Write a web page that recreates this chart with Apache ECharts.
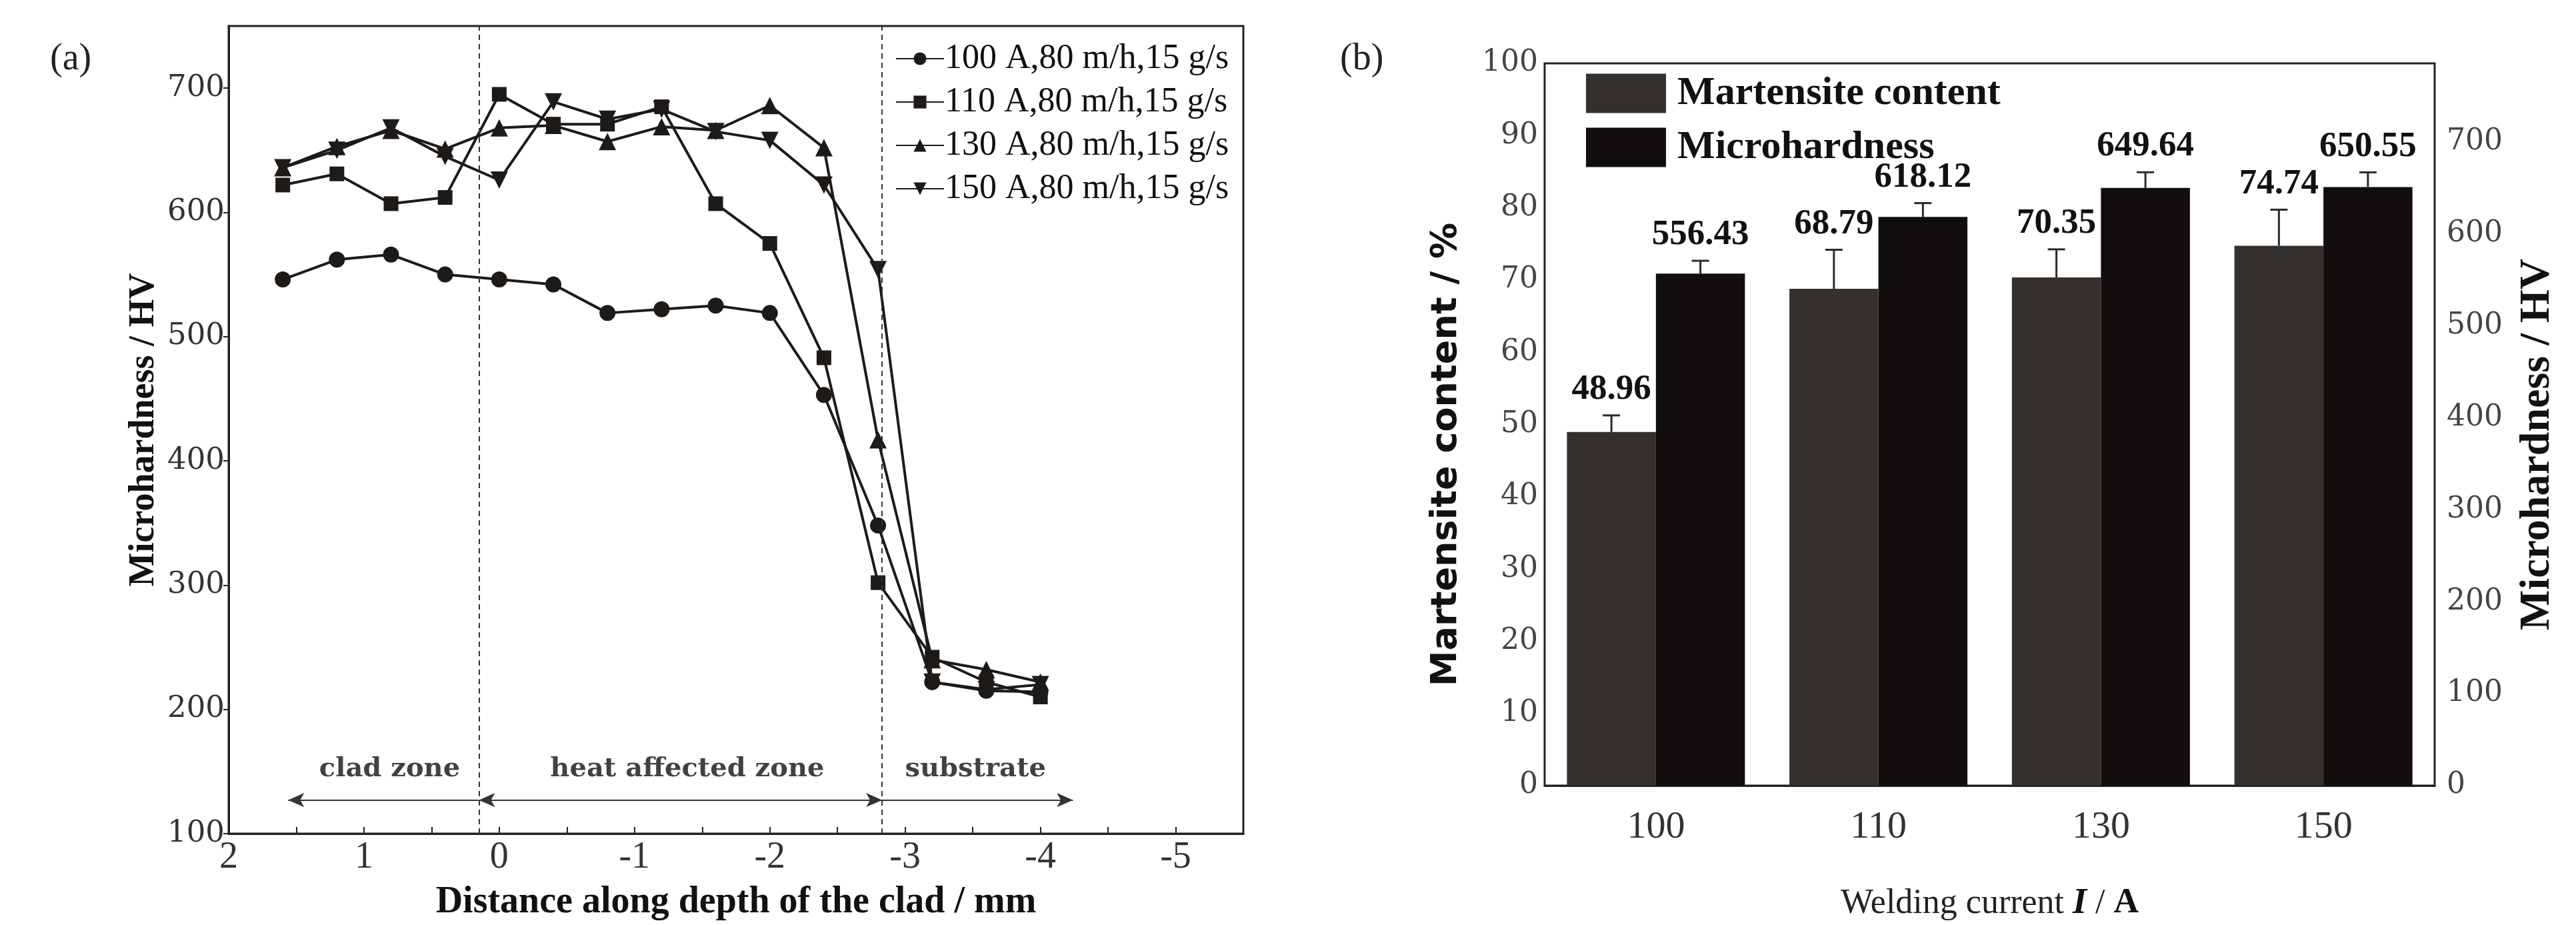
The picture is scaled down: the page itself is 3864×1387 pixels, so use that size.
<!DOCTYPE html>
<html>
<head>
<meta charset="utf-8">
<script src="https://cdn.jsdelivr.net/npm/echarts@6/dist/echarts.min.js"></script>
<style>html,body{margin:0;background:#fff}#main{width:3864px;height:1387px}</style>
</head>
<body>
<div id="main"></div>
<script>
// (a) microhardness along depth of the clad
const depth = [1.6, 1.2, 0.8, 0.4, 0, -0.4, -0.8, -1.2, -1.6, -2.0, -2.4, -2.8, -3.2, -3.6, -4.0];
const hv100 = [546, 562, 566, 550, 546, 542, 519, 522, 525, 519, 453, 348, 222, 215, 214];
const hv110 = [622, 631, 607, 612, 695, 671, 671, 685, 607, 575, 483, 302, 242, 222, 210];
const hv130 = [636, 653, 666, 651, 668, 670, 657, 669, 666, 686, 652, 417, 240, 232, 222];
const hv150 = [636, 650, 668, 645, 626, 689, 675, 683, 665, 658, 622, 554, 222, 216, 220];
const lineNames = ['100 A,80 m/h,15 g/s', '110 A,80 m/h,15 g/s', '130 A,80 m/h,15 g/s', '150 A,80 m/h,15 g/s'];
const zoneBounds = [0.15, -2.83];
const zoneNames = ['clad zone', 'heat affected zone', 'substrate'];
const zoneCentres = [0.81, -1.39, -3.52];
const arrowEnds = [1.56, -4.24];

// (b) martensite content and microhardness vs welding current
const currents = ['100', '110', '130', '150'];
const martensite = [48.96, 68.79, 70.35, 74.74];
const martensiteErr = [2.3, 5.4, 3.9, 5.0];
const hardness = [556.43, 618.12, 649.64, 650.55];
const hardnessErr = [14, 15, 17, 16];

const ink = '#1d1a18';
const serif = 'Liberation Serif';
const wide = 'DejaVu Serif';

function pairs(ys) {
    return depth.map((d, i) => [d, ys[i]]);
}

// error bar plus value label, side -1 = left bar of group, 1 = right bar
function errorBar(side) {
    return function (params, api) {
        const i = api.value(0);
        const v = api.value(1);
        const e = api.value(2);
        const base = api.coord([i, v]);
        const top = api.coord([i, v + e]);
        const bw = api.size([1, 0])[0] * 0.8 / 2;
        const x = base[0] + side * bw / 2;
        return {
            type: 'group',
            children: [
                {type: 'line', shape: {x1: x, y1: base[1], x2: x, y2: top[1]}, style: {stroke: '#2b2b2b', lineWidth: 3}},
                {type: 'line', shape: {x1: x - 13, y1: top[1], x2: x + 13, y2: top[1]}, style: {stroke: '#2b2b2b', lineWidth: 3}},
                {type: 'text', x: x, y: top[1] - 12, style: {
                    text: v.toFixed(2), fill: '#111', fontSize: 53, fontWeight: 'bold', fontFamily: serif,
                    align: 'center', verticalAlign: 'bottom'
                }}
            ]
        };
    };
}

const lineStyle = {color: ink, width: 4};

const option = {
    backgroundColor: '#ffffff',
    animation: false,
    title: [
        {text: '(a)', left: 70, top: 56, textStyle: {fontFamily: serif, fontWeight: 'normal', fontSize: 56, color: '#222'}},
        {text: '(b)', left: 2005, top: 56, textStyle: {fontFamily: serif, fontWeight: 'normal', fontSize: 56, color: '#222'}}
    ],
    legend: [
        {
            data: lineNames, orient: 'vertical', left: 1338, top: 57,
            itemWidth: 72, itemHeight: 24, itemGap: 13,
            textStyle: {fontFamily: serif, fontSize: 52, color: '#111', lineHeight: 52, padding: [0, 0, 0, -4]}
        },
        {
            data: ['Martensite content', 'Microhardness'], orient: 'vertical', left: 2374, top: 105,
            icon: 'rect', itemWidth: 120, itemHeight: 59, itemGap: 21,
            textStyle: {fontFamily: serif, fontWeight: 'bold', fontSize: 60, color: '#111', padding: [0, 0, 0, 12]}
        }
    ],
    grid: [
        {left: 343, top: 39, width: 1522, height: 1219, show: true, borderColor: '#222', borderWidth: 3},
        {left: 2317, top: 95, width: 1335, height: 1084, show: true, borderColor: '#222', borderWidth: 3}
    ],
    xAxis: [
        {
            gridIndex: 0, type: 'value', inverse: true, min: -5.5, max: 2, interval: 0.5,
            name: 'Distance along depth of the clad / mm', nameLocation: 'middle', nameGap: 76,
            nameTextStyle: {fontFamily: serif, fontWeight: 'bold', fontSize: 56, color: '#111'},
            axisLine: {onZero: false, lineStyle: {color: '#222', width: 3}},
            axisTick: {inside: true, length: 10, lineStyle: {color: '#222', width: 2}},
            axisLabel: {
                margin: 8, fontFamily: serif, fontSize: 56, color: '#333',
                formatter: v => Number.isInteger(v) ? String(v) : ''
            },
            splitLine: {show: false}
        },
        {
            gridIndex: 1, type: 'category', data: currents,
            name: '{a|Welding current }{b|I}{a| / }{c|A}', nameLocation: 'middle', nameGap: 150,
            nameTextStyle: {
                rich: {
                    a: {fontFamily: serif, fontSize: 52, color: '#222'},
                    b: {fontFamily: serif, fontSize: 54, fontWeight: 'bold', fontStyle: 'italic', color: '#111'},
                    c: {fontFamily: serif, fontSize: 52, fontWeight: 'bold', color: '#111'}
                }
            },
            axisLine: {lineStyle: {color: '#222', width: 3}},
            axisTick: {show: false},
            axisLabel: {margin: 34, fontFamily: serif, fontSize: 58, color: '#333'}
        }
    ],
    yAxis: [
        {
            gridIndex: 0, type: 'value', min: 100, max: 750, interval: 100,
            name: 'Microhardness / HV', nameLocation: 'middle', nameGap: 100,
            nameTextStyle: {fontFamily: serif, fontWeight: 'bold', fontSize: 54, color: '#111'},
            axisLine: {onZero: false, lineStyle: {color: '#222', width: 3}},
            axisTick: {length: 8, lineStyle: {color: '#222', width: 2}},
            axisLabel: {margin: 6, fontFamily: wide, fontSize: 45, color: '#333', showMaxLabel: false},
            splitLine: {show: false}
        },
        {
            gridIndex: 1, type: 'value', min: 0, max: 100, interval: 10,
            name: 'Martensite content / %', nameLocation: 'middle', nameGap: 120,
            nameTextStyle: {fontFamily: 'DejaVu Sans', fontWeight: 'bold', fontSize: 54, color: '#111', padding: [0, 90, 0, 0]},
            axisLine: {onZero: false, lineStyle: {color: '#222', width: 3}},
            axisTick: {length: 16, lineStyle: {color: '#222', width: 3}},
            axisLabel: {margin: 10, fontFamily: wide, fontSize: 44, color: '#444'},
            splitLine: {show: false}
        },
        {
            gridIndex: 1, type: 'value', position: 'right', min: 0, max: 785, interval: 100,
            name: 'Microhardness / HV', nameLocation: 'middle', nameGap: 122, nameRotate: 90,
            nameTextStyle: {fontFamily: serif, fontWeight: 'bold', fontSize: 64, color: '#111', padding: [0, 60, 0, 0]},
            axisLine: {onZero: false, lineStyle: {color: '#222', width: 3}},
            axisTick: {inside: true, length: 26, lineStyle: {color: '#222', width: 3}},
            axisLabel: {margin: 18, fontFamily: wide, fontSize: 44, color: '#444', showMaxLabel: false},
            splitLine: {show: false}
        }
    ],
    series: [
        {
            name: lineNames[0], type: 'line', xAxisIndex: 0, yAxisIndex: 0, data: pairs(hv100),
            symbol: 'circle', symbolSize: 24, lineStyle: lineStyle, itemStyle: {color: ink},
            markLine: {
                silent: true, symbol: 'none', label: {show: false},
                lineStyle: {color: '#333', width: 2, type: [8, 6]},
                data: zoneBounds.map(b => ({xAxis: b}))
            }
        },
        {
            name: lineNames[1], type: 'line', xAxisIndex: 0, yAxisIndex: 0, data: pairs(hv110),
            symbol: 'rect', symbolSize: 22, lineStyle: lineStyle, itemStyle: {color: ink},
            markLine: {
                silent: true, symbol: ['none', 'arrow'], symbolSize: [16, 24], label: {show: false},
                lineStyle: {color: '#333', width: 2, type: 'solid'},
                data: [
                    [{coord: [zoneBounds[0], 127]}, {coord: [arrowEnds[0], 127]}],
                    [{coord: [zoneBounds[1], 127]}, {coord: [arrowEnds[1], 127]}]
                ]
            }
        },
        {
            name: lineNames[2], type: 'line', xAxisIndex: 0, yAxisIndex: 0, data: pairs(hv130),
            symbol: 'triangle', symbolSize: 26, lineStyle: lineStyle, itemStyle: {color: ink},
            markLine: {
                silent: true, symbol: ['arrow', 'arrow'], symbolSize: [16, 24], label: {show: false},
                lineStyle: {color: '#333', width: 2, type: 'solid'},
                data: [[{coord: [zoneBounds[0], 127]}, {coord: [zoneBounds[1], 127]}]]
            }
        },
        {
            name: lineNames[3], type: 'line', xAxisIndex: 0, yAxisIndex: 0, data: pairs(hv150),
            symbol: 'triangle', symbolRotate: 180, symbolSize: 26, lineStyle: lineStyle, itemStyle: {color: ink}
        },
        {
            name: 'zones', type: 'scatter', xAxisIndex: 0, yAxisIndex: 0, symbolSize: 0, silent: true,
            data: zoneNames.map((n, i) => ({name: n, value: [zoneCentres[i], 152]})),
            label: {
                show: true, position: 'inside', formatter: p => p.name,
                fontFamily: wide, fontWeight: 'bold', fontSize: 40, color: '#111'
            }
        },
        {
            name: 'Martensite content', type: 'bar', xAxisIndex: 1, yAxisIndex: 1, data: martensite,
            barGap: '0%', barCategoryGap: '20%', itemStyle: {color: '#33302e'}
        },
        {
            name: 'Microhardness', type: 'bar', xAxisIndex: 1, yAxisIndex: 2, data: hardness,
            barGap: '0%', barCategoryGap: '20%', itemStyle: {color: '#110e0d'}
        },
        {
            type: 'custom', xAxisIndex: 1, yAxisIndex: 1, z: 5, silent: true,
            renderItem: errorBar(-1),
            data: currents.map((c, i) => [i, martensite[i], martensiteErr[i]])
        },
        {
            type: 'custom', xAxisIndex: 1, yAxisIndex: 2, z: 5, silent: true,
            renderItem: errorBar(1),
            data: currents.map((c, i) => [i, hardness[i], hardnessErr[i]])
        }
    ]
};

const myChart = echarts.init(document.getElementById('main'));
myChart.setOption(option);
</script>
</body>
</html>
